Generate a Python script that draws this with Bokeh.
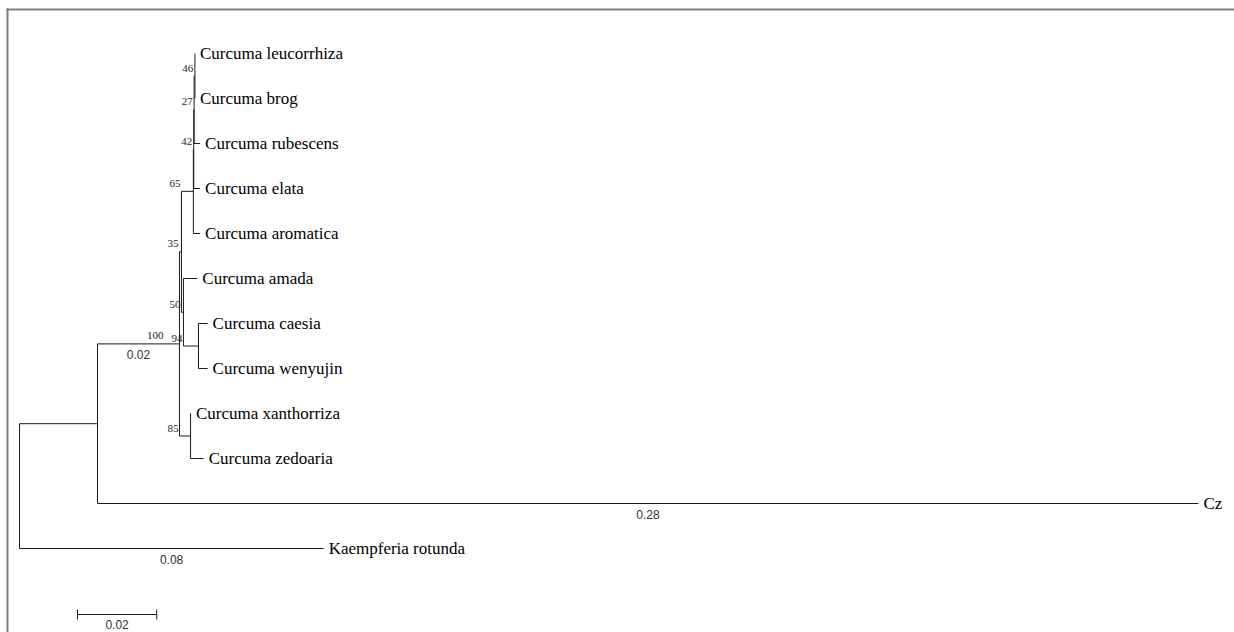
from bokeh.plotting import figure
from bokeh.models import Range1d
from bokeh.core.properties import value
from bokeh.embed import file_html
from bokeh.resources import INLINE

# ---------------- tree data ----------------
node_ids = ["root", "inner", "Kaempferia rotunda", "curcuma", "Cz",
            "n35", "n85", "n65", "n50", "n42", "Curcuma aromatica",
            "n27", "Curcuma elata", "n46", "Curcuma rubescens",
            "Curcuma leucorrhiza", "Curcuma brog", "Curcuma amada", "n94",
            "Curcuma caesia", "Curcuma wenyujin",
            "Curcuma xanthorriza", "Curcuma zedoaria"]
parents = [None, "root", "root", "inner", "inner",
           "curcuma", "curcuma", "n35", "n35", "n65", "n65",
           "n42", "n42", "n27", "n27",
           "n46", "n46", "n50", "n50",
           "n94", "n94",
           "n85", "n85"]
branch_lengths = [0.0, 0.0197, 0.0768, 0.0207, 0.2780,
                  0.0005, 0.0028, 0.0030, 0.0005, 0.0001, 0.0017,
                  0.0001, 0.0016, 0.0002, 0.0015,
                  0.0000, 0.0000, 0.0035, 0.0038,
                  0.0023, 0.0023,
                  0.0001, 0.0033]
bootstrap = [None, None, None, 100, None,
             35, 85, 65, 50, 42, None,
             27, None, 46, None,
             None, None, None, 94,
             None, None,
             None, None]
scale_length = 0.02
min_shown_length = 0.02

# ---------------- layout constants ----------------
W, H = 1234, 632
PX_PER_UNIT = 3960.0
ROOT_PX = 19.0
FIRST_LEAF_PX = 53.0
LEAF_STEP_PX = 45.0

def dx(px):
    return px / PX_PER_UNIT

def dy(px):
    return px / LEAF_STEP_PX

def px2x(px):
    return (px - ROOT_PX) / PX_PER_UNIT

def px2y(px):
    return (px - FIRST_LEAF_PX) / LEAF_STEP_PX

# ---------------- compute layout ----------------
idx = {n: i for i, n in enumerate(node_ids)}
children = {n: [] for n in node_ids}
for n, par in zip(node_ids, parents):
    if par is not None:
        children[par].append(n)

xpos, ypos = {}, {}
leaf_counter = [0]

def place(n, x):
    xpos[n] = x
    for c in children[n]:
        place(c, x + branch_lengths[idx[c]])
    if not children[n]:
        ypos[n] = leaf_counter[0]
        leaf_counter[0] += 1
    else:
        ypos[n] = (ypos[children[n][0]] + ypos[children[n][-1]]) / 2.0

place("root", 0.0)

# ---------------- figure ----------------
p = figure(width=W, height=H, output_backend="svg", toolbar_location=None,
           x_range=Range1d(px2x(0), px2x(W)), y_range=Range1d(px2y(H), px2y(0)),
           x_axis_type=None, y_axis_type=None, min_border=0,
           outline_line_color=None, background_fill_color="white",
           border_fill_color="white")
p.xgrid.visible = False
p.ygrid.visible = False

LINE = "#1a1a1a"

# horizontal branches
hx0, hx1, hy = [], [], []
for n, par in zip(node_ids, parents):
    if par is None:
        continue
    hx0.append(xpos[par]); hx1.append(xpos[n]); hy.append(ypos[n])
p.segment(x0=hx0, y0=hy, x1=hx1, y1=hy, line_color=LINE, line_width=1)

# vertical connectors
vx, vy0, vy1 = [], [], []
for n in node_ids:
    if children[n]:
        vx.append(xpos[n])
        vy0.append(ypos[children[n][0]])
        vy1.append(ypos[children[n][-1]])
p.segment(x0=vx, y0=vy0, x1=vx, y1=vy1, line_color=LINE, line_width=1)

# taxon labels
leaves = [n for n in node_ids if not children[n]]
p.text(x=[xpos[n] + dx(5) for n in leaves], y=[ypos[n] for n in leaves],
       text=leaves, text_font=value("Liberation Serif"),
       text_font_size=value("17px"), text_align="left",
       text_baseline="middle", text_color="black")

# bootstrap labels
bx, by, bt = [], [], []
for n, par, b in zip(node_ids, parents, bootstrap):
    if b is None:
        continue
    right = max(xpos[par], xpos[n] - dx(15)) - dx(1)
    bx.append(right); by.append(ypos[n] - dy(8)); bt.append(str(b))
p.text(x=bx, y=by, text=bt, text_font=value("Liberation Serif"),
       text_font_size=value("11px"), text_align="right",
       text_baseline="middle", text_color="#222222")

# branch length labels
lx, ly, lt = [], [], []
for n, par, bl in zip(node_ids, parents, branch_lengths):
    if par is None or bl < min_shown_length:
        continue
    lx.append((xpos[par] + xpos[n]) / 2.0)
    ly.append(ypos[n] + dy(11))
    lt.append(f"{bl:.2f}")
p.text(x=lx, y=ly, text=lt, text_font=value("Liberation Sans"),
       text_font_size=value("12px"), text_align="center",
       text_baseline="middle", text_color="#333333")

# scale bar
sb_x0 = px2x(77)
sb_y = px2y(614)
sb_x1 = sb_x0 + scale_length
p.segment(x0=[sb_x0, sb_x0, sb_x1], y0=[sb_y, sb_y - dy(5), sb_y - dy(5)],
          x1=[sb_x1, sb_x0, sb_x1], y1=[sb_y, sb_y + dy(5), sb_y + dy(5)],
          line_color=LINE, line_width=1)
p.text(x=[(sb_x0 + sb_x1) / 2.0], y=[sb_y + dy(10)], text=[f"{scale_length:.2f}"],
       text_font=value("Liberation Sans"), text_font_size=value("12px"),
       text_align="center", text_baseline="middle", text_color="#333333")

# frame border (left and top only)
p.segment(x0=[px2x(7), px2x(6)], y0=[px2y(8), px2y(9)],
          x1=[px2x(7), px2x(W)], y1=[px2y(H), px2y(9)],
          line_color="#7f7f7f", line_width=2)

open("out.html", "w").write(file_html(p, INLINE))
